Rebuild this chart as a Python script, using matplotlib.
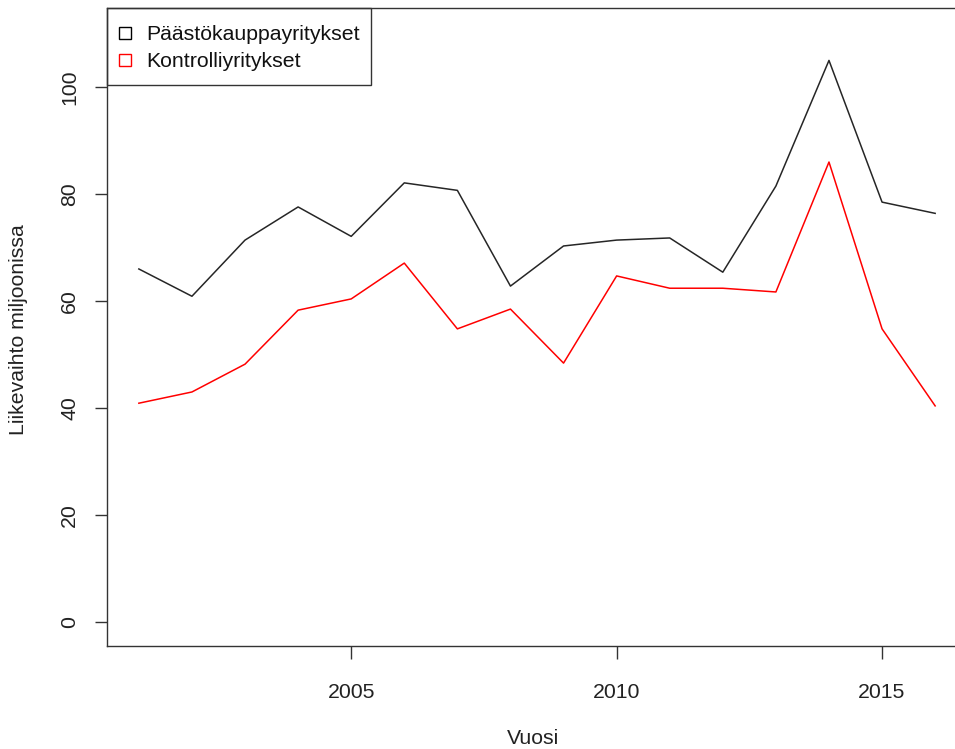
import matplotlib
matplotlib.use("Agg")
import matplotlib.pyplot as plt
from matplotlib.lines import Line2D
from matplotlib.patches import Rectangle

plt.rcParams["font.family"] = ["Liberation Sans", "DejaVu Sans"]

years = list(range(2001, 2017))
paastokauppa = [66.0, 60.9, 71.4, 77.6, 72.1, 82.1, 80.7, 62.8,
                70.3, 71.4, 71.8, 65.4, 81.5, 105.0, 78.5, 76.4]
kontrolli = [40.9, 43.0, 48.2, 58.3, 60.4, 67.1, 54.8, 58.5,
             48.4, 64.7, 62.4, 62.4, 61.7, 86.0, 54.8, 40.4]
series_names = ["Päästökauppayritykset", "Kontrolliyritykset"]
series_colors = ["black", "red"]
x_ticks = [2005, 2010, 2015]
y_ticks = [0, 20, 40, 60, 80, 100]

W, H = 955, 749
fig = plt.figure(figsize=(W / 100, H / 100), dpi=100)
fig.patch.set_facecolor("white")

# plot region runs past the right edge, like a cropped R device
left, right, bottom, top = 107, 967, 646, 8
ax = fig.add_axes([left / W, (H - bottom) / H, (right - left) / W, (bottom - top) / H])

ax.plot(years, paastokauppa, color=series_colors[0], lw=1.1, alpha=0.85)
ax.plot(years, kontrolli, color=series_colors[1], lw=1.1)

ax.set_xlim(2000.4, 2016.6)
ax.set_ylim(-4.5, 114.8)
ax.set_xticks(x_ticks)
ax.set_yticks(y_ticks)
ax.set_yticklabels([str(v) for v in y_ticks], rotation=90, va="center")

for s in ax.spines.values():
    s.set_color("#333333")
    s.set_linewidth(1.0)
ax.tick_params(direction="out", length=9, width=1.0, color="#333333",
               labelsize=15.3, labelcolor="#222222")
ax.tick_params(axis="x", pad=18)
ax.tick_params(axis="y", pad=11)

fig.text(533 / W, 1 - 738 / H, "Vuosi", ha="center", va="center",
         fontsize=15.3, color="#222222")
fig.text(19 / W, 1 - 330 / H, "Liikevaihto miljoonissa", ha="center", va="center",
         rotation=90, fontsize=15.3, color="#222222")

# legend entries without frame; box drawn separately
handles = [Line2D([], [], ls="none", marker="s", ms=8, mfc="white",
                  mec=c, mew=1.0) for c in series_colors]
leg = ax.legend(handles, series_names, loc="upper left",
                bbox_to_anchor=(9 / (right - left), 1 - 17 / (bottom - top)),
                borderaxespad=0, frameon=False, fontsize=15.3,
                handlelength=0.8, handletextpad=0.6,
                labelspacing=0.38, borderpad=0)
for t in leg.get_texts():
    t.set_color("#111111")

box = Rectangle((left / W, 1 - 85 / H), (371 - left) / W, (85 - top) / H,
                transform=fig.transFigure, fill=False, edgecolor="#333333",
                linewidth=1.0, zorder=5)
fig.add_artist(box)

fig.savefig("out.png", dpi=100, facecolor="white")
